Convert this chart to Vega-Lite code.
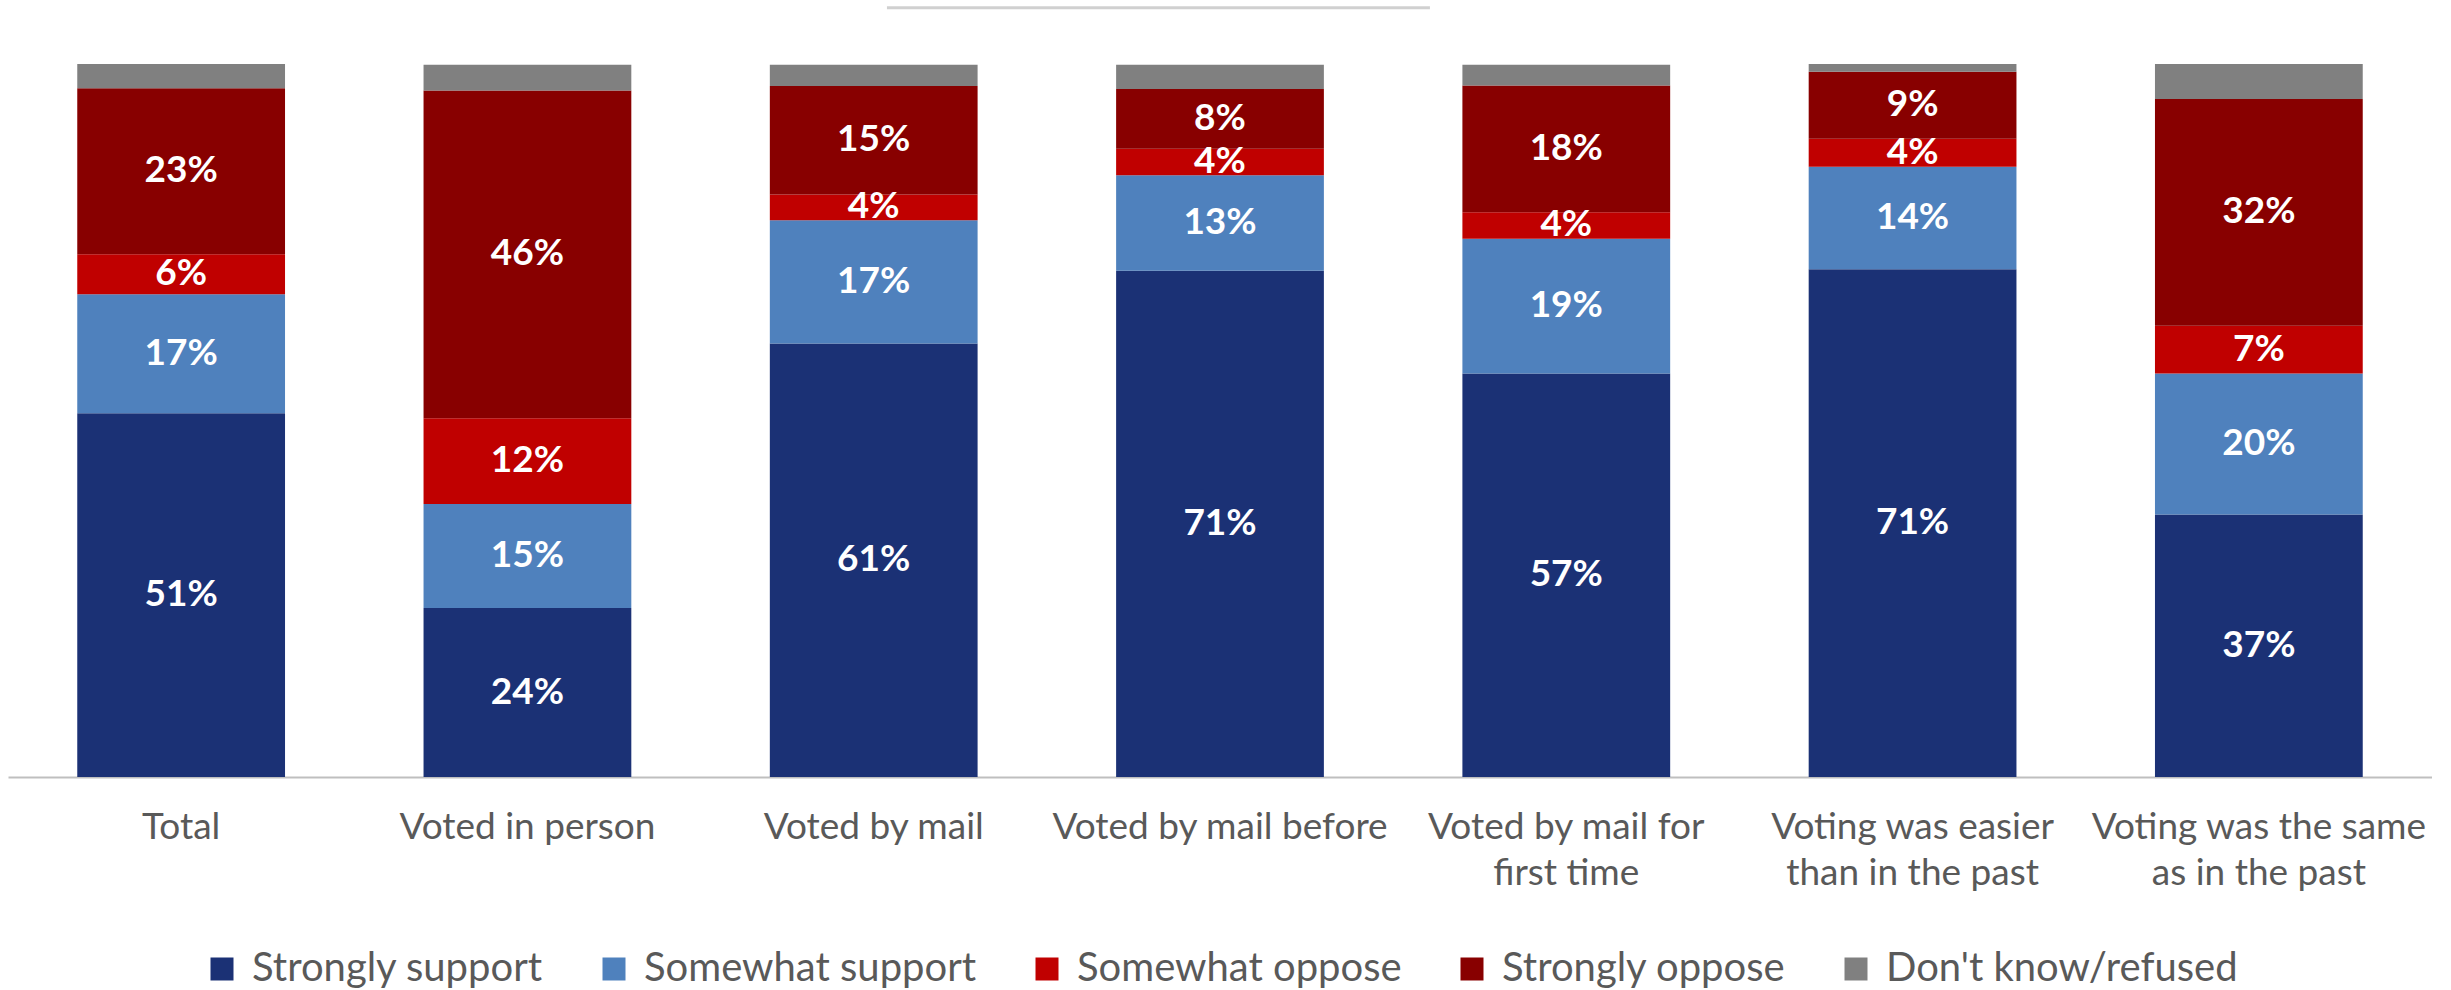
{
  "$schema": "https://vega.github.io/schema/vega-lite/v6.json",
  "width": 2424,
  "height": 713,
  "padding": {"left": 8, "top": 6, "right": 0, "bottom": 0},
  "background": "white",
  "config": {"view": {"stroke": null}, "font": "Lato", "legend": {"layout": {"bottom": {"anchor": "middle"}}}},
  "datasets": {
    "survey": [
      {"group": "Total", "resp": "Strongly support", "k": 1, "v": 0.51},
      {"group": "Total", "resp": "Somewhat support", "k": 2, "v": 0.167},
      {"group": "Total", "resp": "Somewhat oppose", "k": 3, "v": 0.056},
      {"group": "Total", "resp": "Strongly oppose", "k": 4, "v": 0.233},
      {"group": "Total", "resp": "Don't know/refused", "k": 5, "v": 0.034},
      {"group": "Voted in person", "resp": "Strongly support", "k": 1, "v": 0.237},
      {"group": "Voted in person", "resp": "Somewhat support", "k": 2, "v": 0.146},
      {"group": "Voted in person", "resp": "Somewhat oppose", "k": 3, "v": 0.12},
      {"group": "Voted in person", "resp": "Strongly oppose", "k": 4, "v": 0.46},
      {"group": "Voted in person", "resp": "Don't know/refused", "k": 5, "v": 0.036},
      {"group": "Voted by mail", "resp": "Strongly support", "k": 1, "v": 0.608},
      {"group": "Voted by mail", "resp": "Somewhat support", "k": 2, "v": 0.173},
      {"group": "Voted by mail", "resp": "Somewhat oppose", "k": 3, "v": 0.036},
      {"group": "Voted by mail", "resp": "Strongly oppose", "k": 4, "v": 0.152},
      {"group": "Voted by mail", "resp": "Don't know/refused", "k": 5, "v": 0.03},
      {"group": "Voted by mail before", "resp": "Strongly support", "k": 1, "v": 0.71},
      {"group": "Voted by mail before", "resp": "Somewhat support", "k": 2, "v": 0.134},
      {"group": "Voted by mail before", "resp": "Somewhat oppose", "k": 3, "v": 0.037},
      {"group": "Voted by mail before", "resp": "Strongly oppose", "k": 4, "v": 0.084},
      {"group": "Voted by mail before", "resp": "Don't know/refused", "k": 5, "v": 0.034},
      {"group": "Voted by mail for first time", "resp": "Strongly support", "k": 1, "v": 0.566},
      {"group": "Voted by mail for first time", "resp": "Somewhat support", "k": 2, "v": 0.189},
      {"group": "Voted by mail for first time", "resp": "Somewhat oppose", "k": 3, "v": 0.037},
      {"group": "Voted by mail for first time", "resp": "Strongly oppose", "k": 4, "v": 0.178},
      {"group": "Voted by mail for first time", "resp": "Don't know/refused", "k": 5, "v": 0.029},
      {"group": "Voting was easier than in the past", "resp": "Strongly support", "k": 1, "v": 0.712},
      {"group": "Voting was easier than in the past", "resp": "Somewhat support", "k": 2, "v": 0.144},
      {"group": "Voting was easier than in the past", "resp": "Somewhat oppose", "k": 3, "v": 0.039},
      {"group": "Voting was easier than in the past", "resp": "Strongly oppose", "k": 4, "v": 0.094},
      {"group": "Voting was easier than in the past", "resp": "Don't know/refused", "k": 5, "v": 0.011},
      {"group": "Voting was the same as in the past", "resp": "Strongly support", "k": 1, "v": 0.368},
      {"group": "Voting was the same as in the past", "resp": "Somewhat support", "k": 2, "v": 0.198},
      {"group": "Voting was the same as in the past", "resp": "Somewhat oppose", "k": 3, "v": 0.067},
      {"group": "Voting was the same as in the past", "resp": "Strongly oppose", "k": 4, "v": 0.318},
      {"group": "Voting was the same as in the past", "resp": "Don't know/refused", "k": 5, "v": 0.049}
    ],
    "topline": [{"a": 0.3626, "b": 0.5866, "y": 1.079}]
  },
  "layer": [
    {
      "data": {"name": "survey"},
      "mark": {"type": "bar"},
      "encoding": {
        "x": {
          "field": "group", "type": "nominal", "sort": null,
          "scale": {"paddingInner": 0.4, "paddingOuter": 0.2},
          "axis": {
            "title": null, "ticks": false, "labelAngle": 0,
            "domainColor": "#bfbfbf", "domainWidth": 2,
            "labelFont": "Lato", "labelFontSize": 37, "labelColor": "#595959",
            "labelPadding": 32, "labelLineHeight": 46, "labelLimit": 400,
            "labelBaseline": "top",
            "labelExpr": "datum.value == 'Voted by mail for first time' ? ['Voted by mail for', 'first time'] : datum.value == 'Voting was easier than in the past' ? ['Voting was easier', 'than in the past'] : datum.value == 'Voting was the same as in the past' ? ['Voting was the same', 'as in the past'] : datum.value"
          }
        },
        "y": {
          "field": "v", "type": "quantitative", "stack": "zero",
          "scale": {"domain": [0, 1], "nice": false, "zero": true},
          "axis": null
        },
        "order": {"field": "k", "type": "quantitative", "sort": "ascending"},
        "color": {
          "field": "resp", "type": "nominal",
          "sort": ["Strongly support", "Somewhat support", "Somewhat oppose", "Strongly oppose", "Don't know/refused"],
          "scale": {
            "domain": ["Strongly support", "Somewhat support", "Somewhat oppose", "Strongly oppose", "Don't know/refused"],
            "range": ["#1b3175", "#4f81bd", "#c00000", "#880000", "#808080"]
          },
          "legend": {
            "title": null, "orient": "bottom", "direction": "horizontal",
            "symbolType": "square", "symbolSize": 529, "symbolStrokeWidth": 0,
            "labelFont": "Lato", "labelFontSize": 40, "labelColor": "#595959",
            "labelOffset": 10, "columnPadding": 50, "labelLimit": 500,
            "offset": 58
          }
        }
      }
    },
    {
      "data": {"name": "survey"},
      "transform": [{"filter": "datum.resp != \"Don't know/refused\""}],
      "mark": {"type": "text", "font": "Lato", "fontWeight": "bold", "fontSize": 37, "baseline": "middle", "align": "center", "color": "#ffffff"},
      "encoding": {
        "x": {"field": "group", "type": "nominal", "sort": null, "axis": null},
        "y": {"field": "v", "type": "quantitative", "stack": "zero", "bandPosition": 0.5},
        "order": {"field": "k", "type": "quantitative", "sort": "ascending"},
        "detail": {"field": "resp", "type": "nominal"},
        "text": {"field": "v", "type": "quantitative", "format": ".0%"}
      }
    },
    {
      "data": {"name": "topline"},
      "mark": {"type": "rule", "color": "#d0d0d0", "strokeWidth": 3},
      "encoding": {
        "x": {"field": "a", "type": "quantitative", "scale": {"domain": [0, 1], "nice": false}, "axis": null},
        "x2": {"field": "b"},
        "y": {"field": "y", "type": "quantitative"}
      }
    }
  ],
  "resolve": {"scale": {"x": "independent"}}
}
